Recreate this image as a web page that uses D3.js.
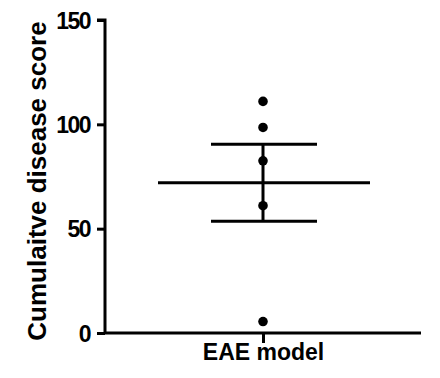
<!DOCTYPE html>
<html>
<head>
<meta charset="utf-8">
<script src="https://cdn.jsdelivr.net/npm/d3@7"></script>
<style>
  body { margin: 0; background: #fff; }
  text { font-family: 'Liberation Sans', Arial, sans-serif; font-weight: bold; }
</style>
</head>
<body>
<div id="graph"></div>
<script>
var groups = ['EAE model'];
var scores = [111, 98.5, 82.5, 61, 5.5];
var meanScore = [72];
var semScore = [18.5];
var yTicks = [0, 50, 100, 150];
var yLabel = 'Cumulaitve disease score';

var width = 440,
    height = 378;

var svg = d3.select('#graph')
    .append('svg')
        .attr('width', width)
        .attr('height', height);

var y = d3.scaleLinear()
    .domain([0, 150])
    .range([333, 20]);

var x = d3.scalePoint()
    .domain(groups)
    .range([105, 421])
    .padding(0.5);

// y axis
var yAxis = svg.append('g')
    .attr('transform', 'translate(105,0)')
    .call(d3.axisLeft(y).tickValues(yTicks).tickSize(8).tickPadding(7));
yAxis.select('.domain').attr('stroke-width', 3).attr('d', 'M-8,' + y(150) + 'H0V' + y(0));
yAxis.selectAll('.tick line').attr('stroke-width', 3);
yAxis.selectAll('.tick text')
    .style('font-size', '23px')
    .style('letter-spacing', '-1.5px')
    .attr('fill', '#000')
    .attr('dy', '0.36em');

// x axis
var xAxis = svg.append('g')
    .attr('transform', 'translate(0,' + y(0) + ')')
    .call(d3.axisBottom(x).tickSize(10).tickPadding(1));
xAxis.select('.domain').attr('stroke-width', 3).attr('d', 'M104,0H421');
xAxis.selectAll('.tick line').attr('stroke-width', 3);
xAxis.selectAll('.tick text').style('font-size', '23px').attr('fill', '#000');

// y label
svg.append('text')
    .attr('transform', 'translate(46,181) rotate(-90)')
    .attr('text-anchor', 'middle')
    .style('font-size', '26px')
    .text(yLabel);

// points
var cx = x(groups[0]);
svg.append('g')
    .selectAll('circle')
    .data(scores)
    .enter().append('circle')
    .attr('cx', cx)
    .attr('cy', function(d) { return y(d); })
    .attr('r', 4.8)
    .style('fill', '#000');

// mean and sem
var g = svg.append('g').attr('stroke', '#000').attr('stroke-width', 3);
g.append('line')
    .attr('x1', cx - 105).attr('x2', cx + 107)
    .attr('y1', y(meanScore[0])).attr('y2', y(meanScore[0]));
g.append('line')
    .attr('x1', cx).attr('x2', cx)
    .attr('y1', y(meanScore[0] + semScore[0])).attr('y2', y(meanScore[0] - semScore[0]));
[meanScore[0] + semScore[0], meanScore[0] - semScore[0]].forEach(function(v) {
    g.append('line')
        .attr('x1', cx - 52).attr('x2', cx + 54)
        .attr('y1', y(v)).attr('y2', y(v));
});
</script>
</body>
</html>
